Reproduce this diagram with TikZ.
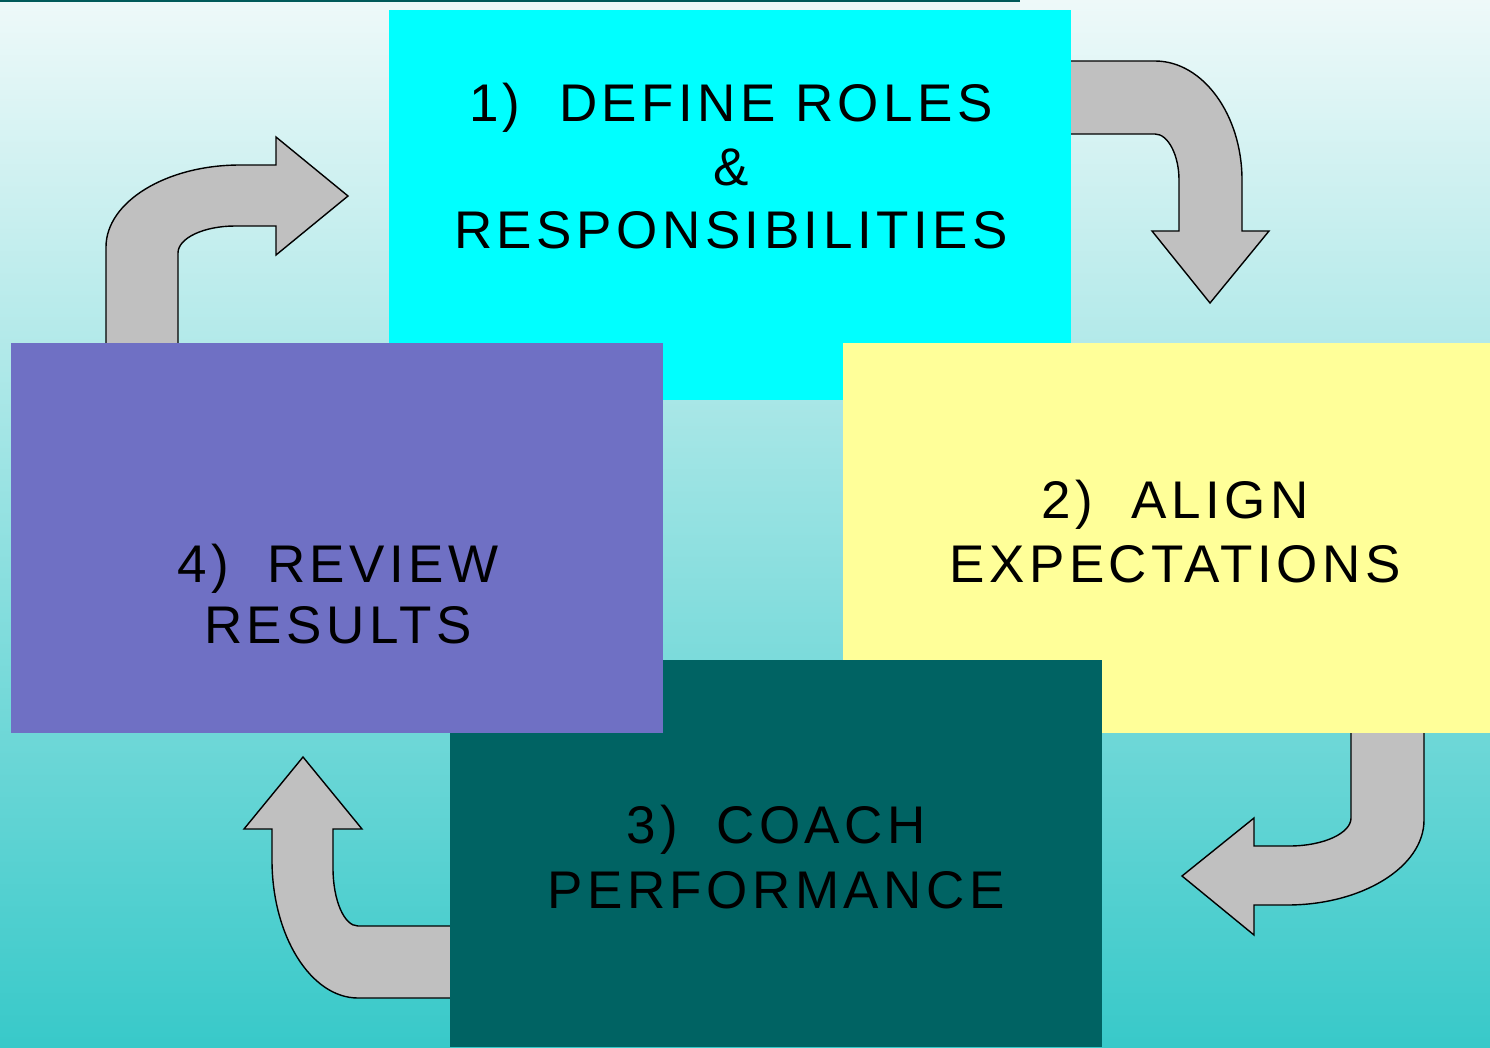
\documentclass[tikz,border=0pt]{standalone}
\usepackage{fontspec}
\newfontfamily\lblfont{Liberation Sans}[LetterSpace=8.5]

\definecolor{bgtop}{RGB}{238,249,249}
\definecolor{bgbottom}{RGB}{56,201,201}
\definecolor{topline}{RGB}{0,90,90}
\definecolor{cyanbox}{RGB}{0,255,255}
\definecolor{yellowbox}{RGB}{255,255,153}
\definecolor{tealbox}{RGB}{0,99,99}
\definecolor{purplebox}{RGB}{111,112,196}
\definecolor{arrowgray}{RGB}{192,192,192}

\begin{document}
\begin{tikzpicture}[x=1pt,y=-1pt,
  box/.style={rectangle, inner sep=0pt, outer sep=0pt, draw=none, anchor=north west},
  lbl/.style={inner sep=0pt, anchor=base, text=black,
    font=\lblfont\fontsize{53}{63.5}\selectfont},
  bent/.style={fill=arrowgray, draw=black, line width=1.4pt, line join=miter}]

\useasboundingbox (0,0) rectangle (1490,1047);

% background
\shade[top color=bgtop, bottom color=bgbottom] (0,0) rectangle (1490,1047);
\draw[topline, line width=1.5pt] (0,0.75) -- (1020,0.75);

% bent block arrows (their tails run under the boxes)
% 1 -> 2
\draw[bent] (1060,61) -- (1155,61)
  .. controls (1203,61) and (1242,115) .. (1242,180)
  -- (1242,231) -- (1269,231) -- (1210,303) -- (1152,231) -- (1179,231)
  -- (1179,180) .. controls (1179,155) and (1168,134) .. (1155,134)
  -- (1060,134) -- cycle;
% 4 -> 1
\draw[bent] (106,355) -- (106,247)
  .. controls (106,202) and (166,165) .. (240,165)
  -- (276,165) -- (276,137) -- (348,196) -- (276,255) -- (276,226)
  -- (235,226) .. controls (204,226) and (178,238) .. (178,253)
  -- (178,355) -- cycle;
% 2 -> 3
\draw[bent] (1424,720) -- (1424,820)
  .. controls (1424,867) and (1362,905) .. (1287,905)
  -- (1254,905) -- (1254,935) -- (1182,876) -- (1254,818) -- (1254,846)
  -- (1289,846) .. controls (1324,846) and (1351,833) .. (1351,818)
  -- (1351,720) -- cycle;
% 3 -> 4
\draw[bent] (462,998) -- (358,998)
  .. controls (311,998) and (272,936) .. (272,860)
  -- (272,829) -- (244,829) -- (303,757) -- (362,829) -- (333,829)
  -- (333,868) .. controls (333,900) and (344,926) .. (358,926)
  -- (462,926) -- cycle;

% boxes
\node[box, fill=cyanbox,   minimum width=682pt, minimum height=390pt] (define) at (389,10) {};
\node[box, fill=yellowbox, minimum width=647pt, minimum height=390pt] (align)  at (843,343) {};
\node[box, fill=tealbox,   minimum width=652pt, minimum height=387pt] (coach)  at (450,660) {};
\node[box, fill=purplebox, minimum width=652pt, minimum height=390pt] (review) at (11,343) {};

% labels
\node[lbl] (defineA) at (731,121) {1)~~DEFINE ROLES};
\node[lbl] (defineB) at (731,185) {\&};
\node[lbl] (defineC) at (731,248) {RESPONSIBILITIES};

\node[lbl] (alignA) at (1175,518) {2)~~ALIGN};
\node[lbl] (alignB) at (1175,582) {EXPECTATIONS};

\node[lbl] (coachA) at (776,843) {3)~~COACH};
\node[lbl] (coachB) at (776,908) {PERFORMANCE};

\node[lbl] (reviewA) at (338,582) {4)~~REVIEW};
\node[lbl] (reviewB) at (338,643) {RESULTS};

\end{tikzpicture}
\end{document}
